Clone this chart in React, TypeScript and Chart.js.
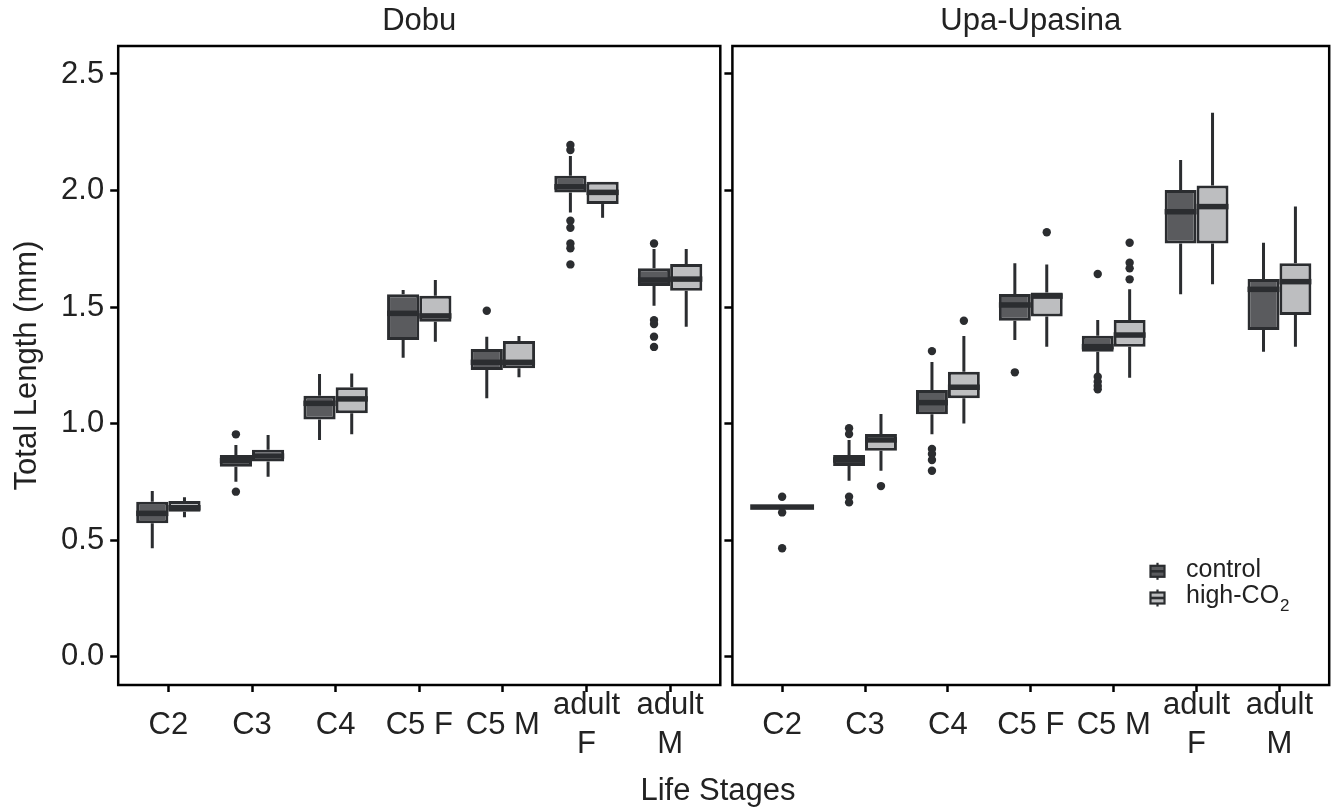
import React, { useEffect, useRef } from 'react';
import { Chart, registerables } from 'chart.js';

Chart.register(...registerables);

// ---------------- data ----------------
const stages = ['C2', 'C3', 'C4', 'C5 F', 'C5 M', 'adult F', 'adult M'];
const stageTickLabels: (string | string[])[] = ['C2', 'C3', 'C4', 'C5 F', 'C5 M', ['adult', 'F'], ['adult', 'M']];
const panelTitles = ['Dobu', 'Upa-Upasina'];
const treatments = ['control', 'high-CO2'];
const yAxisTitle = 'Total Length (mm)';
const xAxisTitle = 'Life Stages';

// Dobu – control
const dobuCtrlLow = [0.465, 0.751, 0.930, 1.283, 1.109, 1.906, 1.506];
const dobuCtrlQ1 = [0.572, 0.815, 1.018, 1.359, 1.230, 1.992, 1.590];
const dobuCtrlMed = [0.615, 0.841, 1.087, 1.473, 1.263, 2.016, 1.616];
const dobuCtrlQ3 = [0.665, 0.865, 1.120, 1.555, 1.320, 2.063, 1.666];
const dobuCtrlHigh = [0.711, 0.908, 1.213, 1.573, 1.373, 2.148, 1.749];
const dobuCtrlOut = [[], [0.954, 0.708], [], [], [1.484], [2.195, 2.174, 1.870, 1.840, 1.773, 1.752, 1.683], [1.773, 1.444, 1.427, 1.373, 1.329]];

// Dobu – high-CO2
const dobuHighLow = [0.598, 0.772, 0.954, 1.351, 1.199, 1.883, 1.416];
const dobuHighQ1 = [0.622, 0.837, 1.044, 1.437, 1.237, 1.942, 1.570];
const dobuHighMed = [0.639, 0.861, 1.106, 1.462, 1.263, 1.992, 1.620];
const dobuHighQ3 = [0.668, 0.888, 1.156, 1.549, 1.354, 2.038, 1.685];
const dobuHighHigh = [0.684, 0.951, 1.215, 1.616, 1.376, 2.038, 1.749];
const dobuHighOut = [[], [], [], [], [], [], []];

// Upa-Upasina – control
const upaCtrlLow = [0.642, 0.755, 0.954, 1.359, 1.216, 1.555, 1.308];
const upaCtrlQ1 = [0.642, 0.818, 1.040, 1.441, 1.308, 1.773, 1.402];
const upaCtrlMed = [0.642, 0.844, 1.090, 1.509, 1.330, 1.909, 1.576];
const upaCtrlQ3 = [0.642, 0.865, 1.144, 1.556, 1.377, 2.002, 1.620];
const upaCtrlHigh = [0.642, 0.930, 1.264, 1.688, 1.444, 2.131, 1.776];
const upaCtrlOut = [[0.686, 0.619, 0.465], [0.980, 0.955, 0.686, 0.662], [1.311, 0.891, 0.870, 0.844, 0.798], [1.220], [1.642, 1.201, 1.180, 1.161, 1.147], [], []];

// Upa-Upasina – high-CO2 (no C2 data)
const upaHighLow = [null, 0.798, 1.001, 1.330, 1.197, 1.598, 1.330];
const upaHighQ1 = [null, 0.884, 1.109, 1.459, 1.330, 1.773, 1.466];
const upaHighMed = [null, 0.930, 1.156, 1.547, 1.380, 1.931, 1.609];
const upaHighQ3 = [null, 0.955, 1.223, 1.562, 1.444, 2.021, 1.688];
const upaHighHigh = [null, 1.041, 1.376, 1.683, 1.576, 2.334, 1.931];
const upaHighOut = [[], [0.732], [1.441], [1.821], [1.776, 1.690, 1.666, 1.619], [], []];

// ---------------- styling ----------------
const W = 1334;
const H = 807;
const FONT = "'Liberation Sans', Arial, Helvetica, sans-serif";
const TEXT = '#222222';
const DARK = '#2b2d30';
const CTRL_FILL = '#5a5b5e';
const HIGH_FILL = '#bdbec0';
const Y_MIN = -0.1214;
const Y_MAX = 2.62;
const PANEL_TOP = 46;
const PANEL_BOTTOM = 685;
const panelGeom = [
  { left: 118.2, right: 720.3, yWidth: 118.2 },
  { left: 732.4, right: 1329.2, yWidth: 12 },
];

type Stats = {
  low: (number | null)[];
  q1: (number | null)[];
  med: (number | null)[];
  q3: (number | null)[];
  high: (number | null)[];
  out: number[][];
};

const panelStats: Stats[][] = [
  [
    { low: dobuCtrlLow, q1: dobuCtrlQ1, med: dobuCtrlMed, q3: dobuCtrlQ3, high: dobuCtrlHigh, out: dobuCtrlOut },
    { low: dobuHighLow, q1: dobuHighQ1, med: dobuHighMed, q3: dobuHighQ3, high: dobuHighHigh, out: dobuHighOut },
  ],
  [
    { low: upaCtrlLow, q1: upaCtrlQ1, med: upaCtrlMed, q3: upaCtrlQ3, high: upaCtrlHigh, out: upaCtrlOut },
    { low: upaHighLow, q1: upaHighQ1, med: upaHighMed, q3: upaHighQ3, high: upaHighHigh, out: upaHighOut },
  ],
];

const fills = [CTRL_FILL, HIGH_FILL];

function boxPlugin(stats: Stats[], withLegend: boolean) {
  return {
    id: 'boxParts',
    beforeDatasetsDraw(chart: any) {
      const ctx = chart.ctx;
      const y = chart.scales.y;
      ctx.save();
      ctx.strokeStyle = DARK;
      ctx.lineWidth = 3;
      stats.forEach((s, d) => {
        const meta = chart.getDatasetMeta(d);
        meta.data.forEach((el: any, i: number) => {
          if (s.med[i] == null) return;
          const x = el.x;
          ctx.beginPath();
          ctx.moveTo(x, y.getPixelForValue(s.high[i]));
          ctx.lineTo(x, y.getPixelForValue(s.q3[i]));
          ctx.moveTo(x, y.getPixelForValue(s.q1[i]));
          ctx.lineTo(x, y.getPixelForValue(s.low[i]));
          ctx.stroke();
        });
      });
      ctx.restore();
    },
    afterDatasetsDraw(chart: any) {
      const ctx = chart.ctx;
      const y = chart.scales.y;
      ctx.save();
      ctx.fillStyle = DARK;
      stats.forEach((s, d) => {
        const meta = chart.getDatasetMeta(d);
        meta.data.forEach((el: any, i: number) => {
          if (s.med[i] == null) return;
          const x = el.x;
          const w = el.width;
          const my = y.getPixelForValue(s.med[i]);
          ctx.fillRect(x - w / 2, my - 2.75, w, 5.5);
          (s.out[i] || []).forEach((v) => {
            ctx.beginPath();
            ctx.arc(x, y.getPixelForValue(v), 4.2, 0, Math.PI * 2);
            ctx.fill();
          });
        });
      });
      ctx.restore();
    },
    afterDraw(chart: any) {
      const ctx = chart.ctx;
      const a = chart.chartArea;
      ctx.save();
      ctx.strokeStyle = '#000';
      ctx.lineWidth = 2.5;
      ctx.strokeRect(a.left, a.top, a.right - a.left, a.bottom - a.top);
      if (withLegend) {
        const cx = a.right - 171.7;
        const tx = a.right - 143.2;
        const rows = [
          { fill: CTRL_FILL, text: treatments[0], cy: a.bottom - 113.7, base: a.bottom - 107.7 },
          { fill: HIGH_FILL, text: 'high-CO', cy: a.bottom - 87, base: a.bottom - 81.7 },
        ];
        rows.forEach((r, k) => {
          ctx.strokeStyle = DARK;
          ctx.lineWidth = 2.2;
          ctx.beginPath();
          ctx.moveTo(cx, r.cy - 8.5);
          ctx.lineTo(cx, r.cy + 8.5);
          ctx.stroke();
          ctx.fillStyle = r.fill;
          ctx.fillRect(cx - 7, r.cy - 5.5, 14, 11);
          ctx.strokeRect(cx - 7, r.cy - 5.5, 14, 11);
          ctx.fillStyle = DARK;
          ctx.fillRect(cx - 7, r.cy - 1.3, 14, 2.6);
          ctx.fillStyle = TEXT;
          ctx.textBaseline = 'alphabetic';
          ctx.textAlign = 'left';
          ctx.font = `25px ${FONT}`;
          ctx.fillText(r.text, tx, r.base);
          if (k === 1) {
            const wMain = ctx.measureText(r.text).width;
            ctx.font = `17px ${FONT}`;
            ctx.fillText('2', tx + wMain + 1, r.base + 7.7);
          }
        });
      }
      ctx.restore();
    },
  };
}

function makeConfig(p: number): any {
  const stats = panelStats[p];
  const g = panelGeom[p];
  const datasets = stats.map((s, d) => ({
    type: 'bar',
    label: treatments[d],
    data: stages.map((_, i) => ({
      x: i,
      y: s.q1[i] == null ? null : [s.q1[i], s.q3[i]],
    })),
    backgroundColor: fills[d],
    borderColor: DARK,
    borderWidth: 3,
    borderSkipped: false,
    categoryPercentage: 0.77,
    barPercentage: 1,
    skipNull: true,
  }));
  const tickGrid = (len: number) => ({
    offset: false,
    drawOnChartArea: false,
    drawTicks: true,
    tickLength: len,
    tickWidth: 2.5,
    tickColor: '#000',
  });
  return {
    type: 'bar',
    data: { datasets },
    plugins: [boxPlugin(stats, p === 1)],
    options: {
      responsive: false,
      maintainAspectRatio: false,
      devicePixelRatio: 1,
      animation: false,
      events: [],
      layout: { padding: { left: g.left - g.yWidth, right: W - g.right, top: 0, bottom: 0 } },
      plugins: {
        legend: { display: false },
        tooltip: { enabled: false },
        title: {
          display: true,
          text: panelTitles[p],
          fullSize: false,
          color: TEXT,
          font: { family: FONT, size: 31, weight: 'normal', lineHeight: 1.2 },
          padding: { top: 2.7, bottom: PANEL_TOP - 2.7 - 31 * 1.2 },
        },
      },
      scales: {
        x: {
          type: 'linear',
          min: -0.6,
          max: 6.6,
          offset: false,
          afterFit: (s: any) => {
            s.height = H - PANEL_BOTTOM;
          },
          grid: tickGrid(7),
          border: { display: false },
          ticks: {
            stepSize: 1,
            includeBounds: false,
            autoSkip: false,
            maxRotation: 0,
            minRotation: 0,
            padding: 13.5,
            crossAlign: 'center',
            color: TEXT,
            font: { family: FONT, size: 31, lineHeight: 1.27 },
            callback: (v: any) => stageTickLabels[Math.round(Number(v))] ?? '',
          },
        },
        y: {
          type: 'linear',
          min: Y_MIN,
          max: Y_MAX,
          afterFit: (s: any) => {
            s.width = g.yWidth;
          },
          grid: tickGrid(8),
          border: { display: false },
          ticks: {
            stepSize: 0.5,
            includeBounds: false,
            padding: 6,
            color: TEXT,
            font: { family: FONT, size: 31 },
            callback: (v: any) => (p === 0 ? Number(v).toFixed(1) : ''),
          },
          title: {
            display: p === 0,
            text: yAxisTitle,
            color: TEXT,
            font: { family: FONT, size: 31, lineHeight: 1.2 },
            padding: { top: 8.6, bottom: 0 },
          },
        },
      },
    },
  };
}

export default function App() {
  const leftRef = useRef<HTMLCanvasElement | null>(null);
  const rightRef = useRef<HTMLCanvasElement | null>(null);

  useEffect(() => {
    const c1 = new Chart(leftRef.current as HTMLCanvasElement, makeConfig(0));
    const c2 = new Chart(rightRef.current as HTMLCanvasElement, makeConfig(1));
    return () => {
      c1.destroy();
      c2.destroy();
    };
  }, []);

  const canvasStyle: React.CSSProperties = { position: 'absolute', left: 0, top: 0, width: W, height: H };
  return (
    <div style={{ position: 'fixed', left: 0, top: 0, width: W, height: H, background: '#fff', overflow: 'hidden' }}>
      <canvas ref={leftRef} width={W} height={H} style={canvasStyle} />
      <canvas ref={rightRef} width={W} height={H} style={canvasStyle} />
      <div
        style={{
          position: 'absolute',
          left: 718,
          top: 773.75,
          transform: 'translateX(-50%)',
          fontFamily: FONT,
          fontSize: 31,
          lineHeight: '31px',
          color: TEXT,
          whiteSpace: 'nowrap',
        }}
      >
        {xAxisTitle}
      </div>
    </div>
  );
}
